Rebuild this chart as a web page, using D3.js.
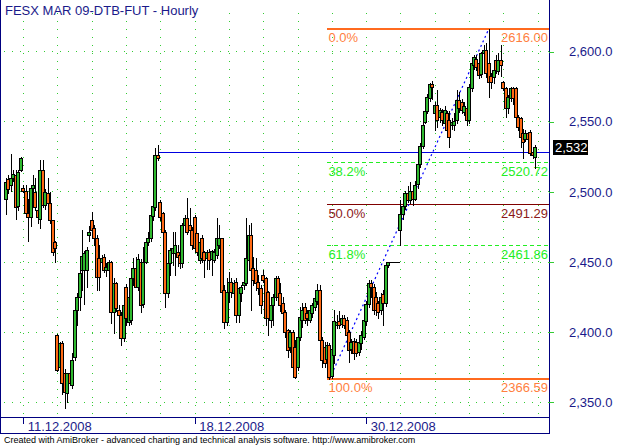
<!DOCTYPE html>
<html><head><meta charset="utf-8">
<script src="https://cdn.jsdelivr.net/npm/d3@7"></script>
<style>
body{margin:0;background:#fff}
svg{display:block}
text{font-family:"Liberation Sans",Arial,sans-serif}
</style>
</head><body>
<svg id="chart" width="618" height="446"></svg>
<script>
// ---------- data ----------
const title = "FESX MAR 09-DTB-FUT - Hourly";
const footer = "Created with AmiBroker - advanced charting and technical analysis software. http://www.amibroker.com";

const opens = [
2495,2509,2505,2510,2512,2490,2516,2503,2501,2485,
2482,2503,2500,2487,2481,2516,2491,2499,2492,2480,
2464,2398,2375,2392,2370.7,2356.4,2370.7,2362.3,2382.5,2415.8,
2425.3,2444.3,2444.3,2444.3,2469.3,2480,2474,2467,2452.7,2450.3,
2453.9,2444.4,2444.4,2450.3,2414.6,2434.8,2416,2412.3,2395.6,2432.5,
2407.5,2408.7,2438.4,2445.5,2432.5,2450,2420,2450,2464.6,2467,
2483,2489,2526.4,2493,2484.8,2471.7,2427.7,2449.1,2456.2,2456.2,
2457.4,2455,2449.1,2476.4,2481.2,2476.4,2473,2482.4,2470.5,2451.5,
2467,2457.4,2452.7,2457.4,2452,2451.5,2455,2462.2,2467,2430,
2407.5,2428.9,2436,2428,2436,2412.3,2427.7,2433.6,2434.8,2451.5,
2469.3,2445.5,2444.4,2436,2431.3,2440.8,2438.4,2429,2408.7,2419.4,
2425,2438.4,2427.7,2420.6,2414.6,2401.6,2389.7,2400.4,2389.7,2375.4,
2396.8,2408.7,2418.2,2413.5,2408.7,2413.5,2418.2,2422,2430,2394.4,
2389.7,2381,2391,2369,2384,2405,2408,2406,2410,2408.7,
2400,2388,2394,2393,2386,2392,2396.8,2408,2420,2434.8,
2432.5,2425.3,2420.6,2415.8,2427,2420.6,2447.9,2449.8,2449.8,2449.8,
2449.8,2473,2484,2490,2499,2494,2501,2495,2506,2520,
2533,2550,2558,2567,2577,2556,2562,2553.7,2557,2549,
2556,2551,2548,2548,2551,2565.6,2564,2557,2559.6,2551.3,
2574,2590.5,2595,2591.7,2584,2598.9,2601.2,2591.7,2583,2582,
2594,2586,2594,2578.6,2573.9,2559.6,2567,2573.9,2573.9,2553.7,
2552.5,2541.8,2538,2542,2543,2528.7,2525.2];

const highs = [
2510,2512,2527,2516,2516,2516,2525,2505,2505,2495,
2505,2512,2510,2491,2523,2523,2502,2510,2500,2480,
2465,2399,2393,2394,2374,2371,2372,2385,2417,2428,
2445.5,2473,2458,2461,2476,2486,2476.4,2469.3,2462,2455,
2456,2449,2451.5,2451,2438.4,2436,2419.4,2414.6,2421,2434,
2433.6,2440,2452.7,2453.9,2456,2452,2461,2466,2471.7,2485,
2497,2531,2533.5,2494,2486,2473,2450.3,2460,2471.7,2471.7,
2462.2,2457.4,2477.6,2483.6,2495.5,2488.3,2475,2483.6,2471,2466,
2469,2458,2458.6,2459,2458.5,2459,2481.2,2476.4,2467.5,2433.6,
2438.4,2443.2,2438.4,2437,2438.4,2432.5,2433.6,2438,2481.2,2476.4,
2477.6,2453.9,2452.7,2440.8,2433.6,2444.4,2439,2429.5,2421,2427,
2440,2440,2434.8,2425.3,2415.8,2402,2401.6,2401.6,2394.4,2401.6,
2418.2,2420.6,2420.6,2415.8,2418.2,2421,2425.3,2434,2433.6,2396.8,
2393.2,2393,2392,2392,2416,2412,2415,2412,2412.3,2411,
2401.6,2395,2396,2395,2395,2401,2410,2422,2437,2437,
2434,2429,2422,2428,2430,2448,2450.3,2449.8,2449.8,2449.8,
2449.8,2494,2492,2501,2504,2507,2503,2508,2522,2535,
2550,2563,2570,2578,2579,2564,2572.7,2560,2559,2561,
2558,2558,2553,2556,2572.7,2571.5,2566,2564,2560.8,2577,
2593,2598,2598,2593,2600,2604.8,2606,2616,2584.6,2588,
2598,2599,2605,2579,2575,2569,2575,2574.5,2575,2555,
2553.7,2545,2544.2,2543,2544,2532,2533.5];

const lows = [
2484,2499,2501,2508,2481,2487,2515,2500,2482,2465,
2476,2500,2487,2478,2474,2489,2488,2489,2478,2455,
2450,2372,2374,2356,2345.7,2350,2362,2360,2380,2405,
2416,2430,2420,2432,2465,2471.7,2462.2,2430,2430,2446,
2443,2440,2441,2406.3,2399.2,2415,2405,2390.9,2394,2405,
2405,2406,2433.6,2432,2430,2414.6,2418,2449,2462,2465,
2480,2487,2523,2480,2470,2418.2,2425,2440.8,2448,2440.8,
2447,2445.5,2446.7,2474,2470,2470,2459,2458,2455,2449,
2450,2439.6,2445,2445,2440.8,2450,2453,2460,2424,2402.8,
2405,2421.8,2425,2422,2407.5,2407.5,2422,2431,2433.6,2449,
2415.8,2433.6,2430,2427,2414,2436,2405.1,2398,2404,2405,
2423,2423,2415,2411,2396.8,2382.5,2386,2370.7,2367.5,2373,
2394.4,2404,2406.3,2405,2407,2411,2416,2420,2389.7,2375.4,
2375,2378,2366.59,2367,2378,2403,2403,2404,2403,2396,
2379,2385,2381,2383,2384,2388,2395,2405,2418,2425,
2413,2412.3,2410,2413,2405,2419,2446.7,2449.8,2449.8,2449.8,
2449.8,2462,2481,2488,2493,2492,2491,2494,2503,2518,
2531,2549,2556,2565,2566,2544,2546.5,2550,2548,2546,
2540,2532.3,2545,2544,2549,2557,2556,2555,2547.7,2549,
2572,2588,2587,2581,2582,2597,2582,2568,2574,2578,
2585,2584,2583,2572.7,2553.7,2556,2565,2563,2551,2544,
2532.3,2524,2536,2530,2526,2524,2517];

const closes = [
2507,2502,2510,2513,2489.5,2514.5,2524,2501,2485,2482,
2503,2505,2489.5,2482,2516,2491,2500,2492,2480,2457,
2460,2373,2392,2363.5,2357.6,2370.7,2363.5,2380.2,2415.8,2425.3,
2442,2454,2456.2,2458.6,2471.7,2472.9,2467,2439.6,2439.6,2452.7,
2444.4,2446.7,2450.3,2414.6,2434.8,2417,2412.3,2395.6,2419.4,2409.9,
2425.3,2438.4,2445.5,2432.5,2452,2419.4,2450,2464.6,2467,2483.6,
2490,2526.4,2524.5,2482.4,2471.7,2427.7,2449.1,2458.6,2459.8,2462.2,
2453.9,2449.1,2476.4,2481.2,2471.7,2472.9,2462,2460,2457.4,2464.6,
2452.7,2451.5,2457.4,2451.5,2457.9,2457.4,2467,2467,2428.9,2407.5,
2428.9,2436,2428.9,2435,2412.3,2431.3,2432.5,2436,2452.7,2469.3,
2444.4,2437.2,2434.8,2431.3,2419.4,2437.2,2409.9,2409.9,2419.4,2425.3,
2438.4,2425.3,2419.4,2413.5,2400.4,2387.3,2400.4,2375.4,2368.3,2396.8,
2411.1,2415.8,2408.7,2410,2415.8,2419.4,2424.2,2430,2394.4,2380.2,
2377.8,2390.9,2368.3,2388,2408,2407.5,2405,2409.9,2405,2398,
2387.3,2393,2385,2385,2393,2398,2408.7,2420,2434.8,2432,
2415.8,2415.8,2414.6,2425.3,2420.6,2447.9,2449.8,2449.8,2449.8,2449.8,
2449.8,2484,2490,2499,2494,2501,2495,2505,2520,2533,
2548,2558,2568,2577,2575,2562,2551,2558.4,2551,2558.4,
2544,2539.4,2550,2550.5,2565.6,2559.6,2558.4,2561,2551.3,2575,
2591.7,2596.5,2589.3,2583.4,2598.9,2601.2,2584.6,2578.6,2578.6,2587,
2587,2594,2590.5,2573.9,2559.6,2568,2573.9,2567,2553.7,2546.6,
2539.4,2535.9,2542,2538,2527.5,2526.3,2532];

const dayStartBars = [7,21,35,49,63,77,91,105,119,133,147,161,175,189,203,217];
const dateLabelBars = [7,77,147];
const dateLabels = ["11.12.2008","18.12.2008","30.12.2008"];
const priceTicks = [2350,2400,2450,2500,2550,2600];

const fibLabels = ["0.0%","38.2%","50.0%","61.8%","100.0%"];
const fibValues = [2616.00,2520.72,2491.29,2461.86,2366.59];
const fibLowBar = 132, fibHighBar = 197;

const lastPrice = 2532;
const hLineValue = 2527.8, hLineStartBar = 62;

// ---------- layout ----------
const svg = d3.select("#chart");
const plotRight = 549, plotBottom = 417, axisBottom = 433;
const nBars = opens.length;

const x = d3.scaleLinear().domain([0, 216]).range([6, 6 + 2.45 * 216]);
const y = d3.scaleLinear().domain([2350, 2600]).range([402.3, 51.7]);

const gridColor = "#33cc33";
const textBlue = "#1a1a8a";
const frameBlue = "#000080";
const upColor = "#2eb82e";
const downColor = "#ff6a14";

// grid
const grid = svg.append("g").attr("shape-rendering", "crispEdges");
grid.selectAll("line.h").data(priceTicks).join("line")
  .attr("x1", 4).attr("x2", plotRight)
  .attr("y1", d => Math.floor(y(d)) + 0.5).attr("y2", d => Math.floor(y(d)) + 0.5)
  .attr("stroke", gridColor).attr("stroke-dasharray", "1,7");
grid.selectAll("line.v").data(dayStartBars).join("line")
  .attr("x1", d => Math.round(x(d)) + 0.5).attr("x2", d => Math.round(x(d)) + 0.5)
  .attr("y1", 13).attr("y2", plotBottom)
  .attr("stroke", gridColor).attr("stroke-dasharray", "1,7");

// title
svg.append("text").attr("x", 5).attr("y", 15)
  .attr("font-size", 13).attr("fill", textBlue).text(title);

// fib lines
const fibColors = ["#ff6a1f", "#22ee22", "#800000", "#22ee22", "#ff6a1f"];
const fibText = ["#ff7f40", "#22ee22", "#8b1a1a", "#22ee22", "#ff7f40"];
const fibWidth = [2, 1, 1, 1, 2];
const fibDash = [null, "4,3", null, "4,3", null];
const fibX0 = x(fibLowBar) - 2;
const fib = svg.append("g");
fibValues.forEach((v, k) => {
  const yy = fibWidth[k] === 2 ? Math.round(y(v)) : Math.floor(y(v)) + 0.5;
  fib.append("line").attr("x1", fibX0).attr("x2", plotRight)
    .attr("y1", yy).attr("y2", yy)
    .attr("stroke", fibColors[k]).attr("stroke-width", fibWidth[k])
    .attr("stroke-dasharray", fibDash[k]).attr("shape-rendering", "crispEdges");
  fib.append("text").attr("x", fibX0 + 1).attr("y", yy + 13)
    .attr("font-size", 13).attr("fill", fibText[k]).text(fibLabels[k]);
  fib.append("text").attr("x", plotRight - 1).attr("y", yy + 13)
    .attr("text-anchor", "end")
    .attr("font-size", 13).attr("fill", fibText[k]).text(d3.format(".2f")(v));
});

// horizontal blue line
svg.append("line")
  .attr("x1", x(hLineStartBar)).attr("x2", plotRight)
  .attr("y1", Math.floor(y(hLineValue)) + 0.5).attr("y2", Math.floor(y(hLineValue)) + 0.5)
  .attr("stroke", "#0000e0").attr("stroke-width", 1).attr("shape-rendering", "crispEdges");

// dotted trend line low->high
svg.append("line")
  .attr("x1", x(fibLowBar)).attr("y1", y(fibValues[4]))
  .attr("x2", x(fibHighBar)).attr("y2", y(fibValues[0]))
  .attr("stroke", "#0000ff").attr("stroke-width", 1.2).attr("stroke-dasharray", "2,3");

// candles
const bars = d3.range(nBars);
const cg = svg.append("g").attr("shape-rendering", "crispEdges");
bars.forEach(i => {
  const cx = Math.round(x(i));
  const o = opens[i], h = highs[i], l = lows[i], c = closes[i];
  cg.append("line").attr("x1", cx + 0.5).attr("x2", cx + 0.5)
    .attr("y1", Math.round(y(h))).attr("y2", Math.round(y(l)) + 1)
    .attr("stroke", "#000");
  const top = Math.round(y(Math.max(o, c))) + 0.5;
  const bot = Math.round(y(Math.min(o, c))) + 0.5;
  cg.append("path")
    .attr("d", `M${cx - 1.5},${top}H${cx + 1.5}V${bot}H${cx - 1.5}Z`)
    .attr("fill", c >= o ? upColor : downColor)
    .attr("stroke", "#000").attr("stroke-width", 1);
});

// frame
const fr = svg.append("g").attr("stroke", frameBlue).attr("shape-rendering", "crispEdges");
fr.append("line").attr("x1", 0.5).attr("x2", 0.5).attr("y1", 0).attr("y2", axisBottom + 0.5);
fr.append("line").attr("x1", plotRight + 0.5).attr("x2", plotRight + 0.5).attr("y1", 0).attr("y2", axisBottom + 0.5);
fr.append("line").attr("x1", 0).attr("x2", plotRight + 0.5).attr("y1", plotBottom + 0.5).attr("y2", plotBottom + 0.5);
fr.append("line").attr("x1", 0).attr("x2", plotRight + 0.5).attr("y1", axisBottom + 0.5).attr("y2", axisBottom + 0.5);

// right price axis
const yAxis = d3.axisRight(y).tickValues(priceTicks)
  .tickFormat(d3.format(",.1f")).tickSize(5).tickPadding(15);
const ya = svg.append("g").attr("transform", `translate(${plotRight},0)`).call(yAxis);
ya.select(".domain").remove();
ya.selectAll(".tick line").attr("stroke", gridColor).attr("shape-rendering", "crispEdges");
ya.selectAll(".tick text").attr("fill", textBlue).attr("font-size", 13)
  .attr("font-family", "Liberation Sans, Arial, sans-serif");

// last price label
const ly = y(lastPrice);
svg.append("rect").attr("x", 553).attr("y", Math.round(ly) - 7).attr("width", 35).attr("height", 15).attr("fill", "#000");
svg.append("text").attr("x", 555).attr("y", Math.round(ly) + 5)
  .attr("font-size", 13).attr("fill", "#fff").text(d3.format(",")(lastPrice));

// date axis
const xAxis = d3.axisBottom(x).tickValues(dateLabelBars)
  .tickFormat((d, k) => dateLabels[k]).tickSize(7).tickPadding(0);
const xa = svg.append("g").attr("transform", `translate(0,${plotBottom})`).call(xAxis);
xa.select(".domain").remove();
xa.selectAll(".tick line").attr("stroke", frameBlue).attr("shape-rendering", "crispEdges");
xa.selectAll(".tick text").attr("fill", textBlue).attr("font-size", 13)
  .attr("font-family", "Liberation Sans, Arial, sans-serif")
  .attr("text-anchor", "start").attr("x", 4).attr("y", 14).attr("dy", null);

// footer
svg.append("text").attr("x", 4).attr("y", 443)
  .attr("font-size", 9).attr("fill", "#000").text(footer);
</script>
</body></html>
